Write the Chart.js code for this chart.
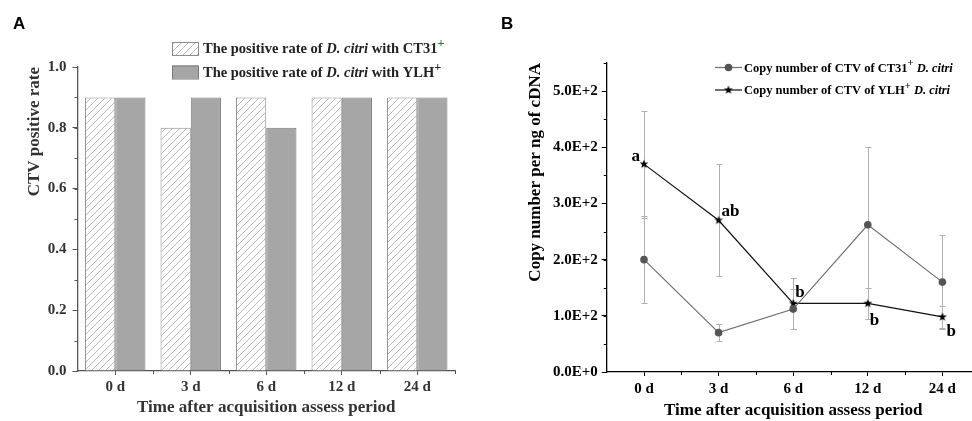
<!DOCTYPE html>
<html>
<head>
<meta charset="utf-8">
<script src="https://cdn.jsdelivr.net/npm/chart.js@4.4.1/dist/chart.umd.min.js"></script>
<style>
  html, body { margin: 0; padding: 0; background: #fff; }
  body { width: 972px; height: 421px; overflow: hidden; position: relative; }
  canvas { position: absolute; top: 0; }
  .panel { position: absolute; font: bold 17px "Liberation Sans", Arial, sans-serif; line-height: 17px; color: #000; }
</style>
</head>
<body>
<canvas id="rateChart" width="486" height="421" style="left:0"></canvas>
<canvas id="copyChart" width="500" height="421" style="left:486px"></canvas>
<div class="panel" style="left:13px;top:15px">A</div>
<div class="panel" style="left:501px;top:15px">B</div>
<script>
const days = ["0 d", "3 d", "6 d", "12 d", "24 d"];

// A: positive rate
const rateCT31 = [0.9, 0.8, 0.9, 0.9, 0.9];
const rateYLH = [0.9, 0.9, 0.8, 0.9, 0.9];

// B: copy number per ng of cDNA, mean and error
const copyCT31 = [200, 70, 112, 262, 160];
const errCT31 = [78, 15, 36, 138, 83];
const copyYLH = [370, 270, 122, 122, 98];
const errYLH = [95, 100, 45, 27, 20];
const letters = ["a", "ab", "b", "b", "b"];

const legendA = [
  [["The positive rate of ", "n"], ["D. citri", "i"], [" with CT31", "n"], ["+", "sup", "#2f56a6"]],
  [["The positive rate of ", "n"], ["D. citri", "i"], [" with YLH", "n"], ["+", "sup"]],
];
const legendB = [
  [["Copy number of CTV of CT31", "n"], ["+", "sup"], [" D. citri", "i"]],
  [["Copy number of CTV of YLH", "n"], ["+", "sup"], [" D. citri", "i"]],
];

// where the significance letters sit relative to the star (dx, dy, align)
const letterPos = [[-4, -3, "right"], [3, -4, "left"], [2, -6, "left"], [2, 22, "left"], [4, 19, "left"]];

const serif = "'Liberation Serif', 'Times New Roman', serif";
const tickFont = { family: serif, size: 15, weight: "bold" };
const titleFont = { family: serif, size: 17, weight: "bold" };

function hatch() {
  const c = document.createElement("canvas");
  c.width = 7; c.height = 7;
  const g = c.getContext("2d");
  g.fillStyle = "#fff";
  g.fillRect(0, 0, 7, 7);
  g.strokeStyle = "#a8a8a8";
  g.lineWidth = 0.8;
  g.beginPath();
  g.moveTo(0, 7); g.lineTo(7, 0);
  g.moveTo(-3.5, 3.5); g.lineTo(3.5, -3.5);
  g.moveTo(3.5, 10.5); g.lineTo(10.5, 3.5);
  g.stroke();
  return g.createPattern(c, "repeat");
}

function starImage(r) {
  const s = Math.ceil(r * 2) + 2;
  const c = document.createElement("canvas");
  c.width = s; c.height = s;
  const g = c.getContext("2d");
  g.fillStyle = "#000";
  g.beginPath();
  for (let k = 0; k < 10; k++) {
    const rad = k % 2 ? r * 0.42 : r;
    const a = -Math.PI / 2 + k * Math.PI / 5;
    g.lineTo(s / 2 + rad * Math.cos(a), s / 2 + rad * Math.sin(a));
  }
  g.closePath();
  g.fill();
  return c;
}
const star = starImage(4.6);

const minorTicks = {
  id: "minorTicks",
  afterDraw(chart, args, opts) {
    const { ctx, chartArea, scales: { x, y } } = chart;
    ctx.save();
    ctx.strokeStyle = opts.color;
    ctx.lineWidth = 1;
    ctx.beginPath();
    for (let v = y.min + opts.yStep; v <= y.max + 1e-9; v += opts.yStep) {
      const p = Math.round(y.getPixelForValue(v)) + 0.5;
      ctx.moveTo(chartArea.left - 3, p);
      ctx.lineTo(chartArea.left, p);
    }
    for (let i = 1; i <= x.ticks.length; i++) {
      const p = Math.round(x.getPixelForValue(i - 0.5)) + 0.5;
      ctx.moveTo(p, chartArea.bottom);
      ctx.lineTo(p, chartArea.bottom + 3);
    }
    ctx.stroke();
    ctx.restore();
  },
};

const legendText = {
  id: "legendText",
  afterDraw(chart, args, opts) {
    const ctx = chart.ctx;
    const rows = chart.canvas.id === "rateChart" ? legendA : legendB;
    ctx.save();
    rows.forEach((row, i) => {
      const ds = chart.data.datasets[i];
      const y = opts.y + i * opts.gap;
      if (opts.kind === "bar") {
        ctx.fillStyle = ds.backgroundColor;
        ctx.fillRect(opts.x, y - 6.5, 26, 13);
        ctx.strokeStyle = ds.borderColor;
        ctx.lineWidth = 1;
        ctx.strokeRect(opts.x + 0.5, y - 6, 26, 13);
      } else {
        ctx.strokeStyle = ds.borderColor;
        ctx.lineWidth = 1.2;
        ctx.beginPath();
        ctx.moveTo(opts.x, y);
        ctx.lineTo(opts.x + 27, y);
        ctx.stroke();
        if (ds.pointStyle instanceof HTMLCanvasElement) {
          ctx.drawImage(ds.pointStyle, opts.x + 13.5 - ds.pointStyle.width / 2, y - ds.pointStyle.height / 2);
        } else {
          ctx.fillStyle = ds.pointBackgroundColor;
          ctx.beginPath();
          ctx.arc(opts.x + 13.5, y, ds.pointRadius, 0, Math.PI * 2);
          ctx.fill();
        }
      }
      let tx = opts.textX;
      ctx.textBaseline = "alphabetic";
      ctx.textAlign = "left";
      row.forEach(([txt, style, col]) => {
        let size = opts.size, dy = 0, it = "";
        if (style === "sup") { size = opts.size * 0.85; dy = -opts.size * 0.42; }
        if (style === "i") it = "italic ";
        ctx.font = `${it}bold ${size}px ${serif}`;
        ctx.fillStyle = col || opts.color;
        ctx.fillText(txt, tx, y + opts.size * 0.33 + dy);
        tx += ctx.measureText(txt).width;
      });
    });
    ctx.restore();
  },
};

const errorBars = {
  id: "errorBars",
  beforeDatasetsDraw(chart, args, opts) {
    const { ctx, scales: { y } } = chart;
    ctx.save();
    ctx.strokeStyle = opts.color;
    ctx.lineWidth = 1;
    chart.data.datasets.forEach((ds, di) => {
      chart.getDatasetMeta(di).data.forEach((pt, i) => {
        const px = Math.round(pt.x) + 0.5;
        const hi = Math.round(y.getPixelForValue(ds.data[i] + ds.errors[i])) + 0.5;
        const lo = Math.round(y.getPixelForValue(ds.data[i] - ds.errors[i])) + 0.5;
        ctx.beginPath();
        ctx.moveTo(px, hi); ctx.lineTo(px, lo);
        ctx.moveTo(px - 3, hi); ctx.lineTo(px + 3, hi);
        ctx.moveTo(px - 3, lo); ctx.lineTo(px + 3, lo);
        ctx.stroke();
      });
    });
    ctx.restore();
  },
};

const sigLetters = {
  id: "sigLetters",
  afterDatasetsDraw(chart) {
    const ctx = chart.ctx;
    const pts = chart.getDatasetMeta(1).data;
    ctx.save();
    ctx.font = `bold 17px ${serif}`;
    ctx.fillStyle = "#000";
    ctx.textBaseline = "alphabetic";
    pts.forEach((pt, i) => {
      const [dx, dy, align] = letterPos[i];
      ctx.textAlign = align;
      ctx.fillText(letters[i], pt.x + dx, pt.y + dy);
    });
    ctx.restore();
  },
};

const axisA = "#555";
const textA = "#333";

new Chart(document.getElementById("rateChart"), {
  type: "bar",
  data: {
    labels: days,
    datasets: [
      { label: "CT31", data: rateCT31, backgroundColor: hatch(), borderColor: "#8c8c8c", borderWidth: 1 },
      { label: "YLH", data: rateYLH, backgroundColor: "#a6a6a6", borderColor: "#7a7a7a", borderWidth: 1 },
    ],
  },
  options: {
    responsive: false,
    animation: false,
    layout: { padding: { top: 67, right: 31, left: 0, bottom: 0 } },
    datasets: { bar: { categoryPercentage: 0.8, barPercentage: 1.0 } },
    scales: {
      x: {
        grid: { offset: false, drawOnChartArea: false, tickLength: 4, color: axisA },
        border: { color: axisA, width: 1.3 },
        ticks: { font: tickFont, color: textA, padding: 3 },
        title: { display: true, text: "Time after acquisition assess period", font: titleFont, color: textA, padding: { top: 0, bottom: 3 } },
        afterFit: (s) => { s.height = 50; },
      },
      y: {
        min: 0,
        max: 1,
        ticks: { stepSize: 0.2, callback: (v) => v.toFixed(1), font: tickFont, color: textA, padding: 6 },
        grid: { drawOnChartArea: false, tickLength: 5, color: axisA },
        border: { color: axisA, width: 1.3 },
        title: { display: true, text: "CTV positive rate", align: "end", font: titleFont, color: textA, padding: { top: 24, bottom: 0 } },
        afterFit: (s) => { s.width = 77.5; },
      },
    },
    plugins: {
      legend: { display: false },
      tooltip: { enabled: false },
      minorTicks: { color: axisA, yStep: 0.1 },
      legendText: { kind: "bar", x: 172, y: 48.5, gap: 23.5, textX: 203, size: 14.5, color: "#222" },
    },
  },
  plugins: [minorTicks, legendText],
});

new Chart(document.getElementById("copyChart"), {
  type: "line",
  data: {
    labels: days,
    datasets: [
      { label: "CT31", data: copyCT31, errors: errCT31, borderColor: "#6e6e6e", borderWidth: 1.2, pointRadius: 3.8, pointBackgroundColor: "#555", pointBorderColor: "#555", pointBorderWidth: 0, tension: 0 },
      { label: "YLH", data: copyYLH, errors: errYLH, borderColor: "#111", borderWidth: 1.2, pointStyle: star, pointRadius: 4, tension: 0 },
    ],
  },
  options: {
    responsive: false,
    animation: false,
    layout: { padding: { top: 63, right: 6.3, left: 0, bottom: 0 } },
    scales: {
      x: {
        offset: true,
        grid: { offset: false, drawOnChartArea: false, tickLength: 4, color: "#000" },
        border: { color: "#000", width: 1.3 },
        ticks: { font: tickFont, color: "#000", padding: 4 },
        title: { display: true, text: "Time after acquisition assess period", font: titleFont, color: "#000", padding: { top: 0, bottom: 0 } },
        afterFit: (s) => { s.height = 49; },
      },
      y: {
        min: 0,
        max: 550,
        ticks: { stepSize: 100, callback: (v) => (v === 0 ? "0.0E+0" : (v / 100).toFixed(1) + "E+2"), font: tickFont, color: "#000", padding: 4 },
        afterBuildTicks: (s) => { s.ticks = s.ticks.filter((t) => t.value % 100 === 0); },
        grid: { drawOnChartArea: false, tickLength: 5, color: "#000" },
        border: { color: "#000", width: 1.3 },
        title: { display: true, text: "Copy number per ng of cDNA", align: "end", font: titleFont, color: "#000", padding: { top: 39, bottom: 0 } },
        afterFit: (s) => { s.width = 120.7; },
      },
    },
    plugins: {
      legend: { display: false },
      tooltip: { enabled: false },
      minorTicks: { color: "#000", yStep: 50 },
      errorBars: { color: "#b0b0b0" },
      legendText: { kind: "line", x: 229, y: 67.5, gap: 22.5, textX: 258, size: 12.5, color: "#000" },
    },
  },
  plugins: [minorTicks, errorBars, sigLetters, legendText],
});
</script>
</body>
</html>
